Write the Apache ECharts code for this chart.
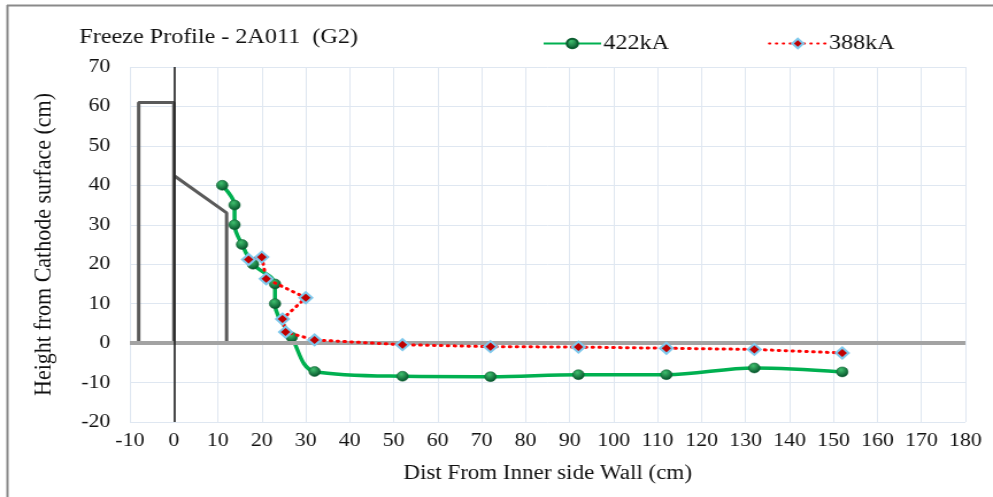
<!DOCTYPE html>
<html>
<head>
<meta charset="utf-8">
<script src="https://cdn.jsdelivr.net/npm/echarts@6/dist/echarts.min.js"></script>
<style>
html,body{margin:0;padding:0;background:#fff;overflow:hidden;width:993px;height:497px;}
#c{width:864px;height:497px;transform:scaleX(1.1493);transform-origin:0 0;}
</style>
</head>
<body>
<div id="c"></div>
<script>
// ---- data ----
const titleText = 'Freeze Profile - 2A011  (G2)';
const xName = 'Dist From Inner side Wall (cm)';
const yName = 'Height from Cathode surface (cm)';
const seriesNames = ['422kA', '388kA'];

const wallOuterX = [-8, -8, 0, 0];
const wallOuterY = [0, 61, 61, 0];
const wallInnerX = [0, 12, 12];
const wallInnerY = [42.5, 33, 0];

const x422 = [11, 13.8, 13.8, 15.5, 18, 23, 23, 26.8, 32, 52, 72, 92, 112, 132, 152];
const y422 = [40, 35, 30, 25, 20, 15, 10, 1.5, -7.2, -8.4, -8.5, -8, -8, -6.3, -7.3];

const x388 = [17, 20, 21, 30, 24.7, 25.4, 32, 52, 72, 92, 112, 132, 152];
const y388 = [21.2, 21.8, 16.3, 11.5, 6.1, 2.8, 0.8, -0.4, -0.9, -1, -1.3, -1.6, -2.5];

const xMin = -10, xMax = 180, xStep = 10;
const yMin = -20, yMax = 70, yStep = 10;

// ---- build ----
const zip = (xs, ys) => xs.map((x, i) => [x, ys[i]]);
const FONT = '"Liberation Serif", "Times New Roman", serif';

const chart = echarts.init(document.getElementById('c'));
chart.setOption({
  animation: false,
  backgroundColor: '#fff',
  title: {
    text: titleText,
    left: 64, top: 22,
    textStyle: { fontFamily: FONT, fontSize: 21, fontWeight: 'normal', color: '#111' }
  },
  legend: {
    data: seriesNames,
    left: 467, top: 28,
    itemWidth: 50, itemHeight: 12, itemGap: 86,
    textStyle: { fontFamily: FONT, fontSize: 21, color: '#111', padding: [0, 0, 0, -3] }
  },
  graphic: [
    { type: 'line', shape: { x1: 6.5, y1: 5, x2: 6.5, y2: 497 }, style: { stroke: '#8a8a8a', lineWidth: 2 } },
    { type: 'line', shape: { x1: 6, y1: 5.5, x2: 864, y2: 5.5 }, style: { stroke: '#8a8a8a', lineWidth: 2 } }
  ],
  grid: { left: 113, right: 24, top: 67, bottom: 75 },
  xAxis: {
    type: 'value', min: xMin, max: xMax, interval: xStep,
    name: xName, nameLocation: 'middle', nameGap: 42,
    nameTextStyle: { fontFamily: FONT, fontSize: 20, color: '#111' },
    axisLine: { show: false }, axisTick: { show: false },
    axisLabel: { fontFamily: FONT, fontSize: 19, color: '#111', margin: 10 },
    splitLine: { show: true, lineStyle: { color: '#dfe7f1', width: 1 } }
  },
  yAxis: {
    type: 'value', min: yMin, max: yMax, interval: yStep,
    name: yName, nameLocation: 'middle', nameGap: 64,
    nameTextStyle: { fontFamily: FONT, fontSize: 22, color: '#111' },
    axisLine: { show: false }, axisTick: { show: false },
    axisLabel: { fontFamily: FONT, fontSize: 19, color: '#111', margin: 17 },
    splitLine: { show: true, lineStyle: { color: '#dfe7f1', width: 1 } }
  },
  series: [
    {
      name: 'wallOuter', type: 'line', data: zip(wallOuterX, wallOuterY),
      showSymbol: false, silent: true, z: 2,
      lineStyle: { color: '#5a5a5a', width: 3 },
      markLine: {
        silent: true, symbol: 'none', label: { show: false },
        data: [
          { yAxis: 0, lineStyle: { color: '#a3a3a3', width: 4, type: 'solid' } },
          { xAxis: 0, lineStyle: { color: '#1f1f1f', width: 1.6, type: 'solid' } }
        ]
      }
    },
    {
      name: 'wallInner', type: 'line', data: zip(wallInnerX, wallInnerY),
      showSymbol: false, silent: true, z: 2,
      lineStyle: { color: '#5a5a5a', width: 3 }
    },
    {
      name: seriesNames[0], type: 'line', data: zip(x422, y422),
      smooth: 0.35, z: 4,
      symbol: 'circle', symbolSize: 10,
      lineStyle: { color: '#00b050', width: 3.5 },
      itemStyle: {
        color: {
          type: 'radial', x: 0.4, y: 0.3, r: 0.7,
          colorStops: [{ offset: 0, color: '#3fbf6e' }, { offset: 1, color: '#05512a' }]
        },
        borderColor: '#0b5e30', borderWidth: 0.5
      }
    },
    {
      name: seriesNames[1], type: 'line', data: zip(x388, y388),
      z: 5,
      symbol: 'diamond', symbolSize: 11,
      lineStyle: { color: '#ff0000', width: 3, type: [1, 5], cap: 'round' },
      itemStyle: { color: '#c00000', borderColor: '#7ec8ec', borderWidth: 2 }
    }
  ]
});
</script>
</body>
</html>
